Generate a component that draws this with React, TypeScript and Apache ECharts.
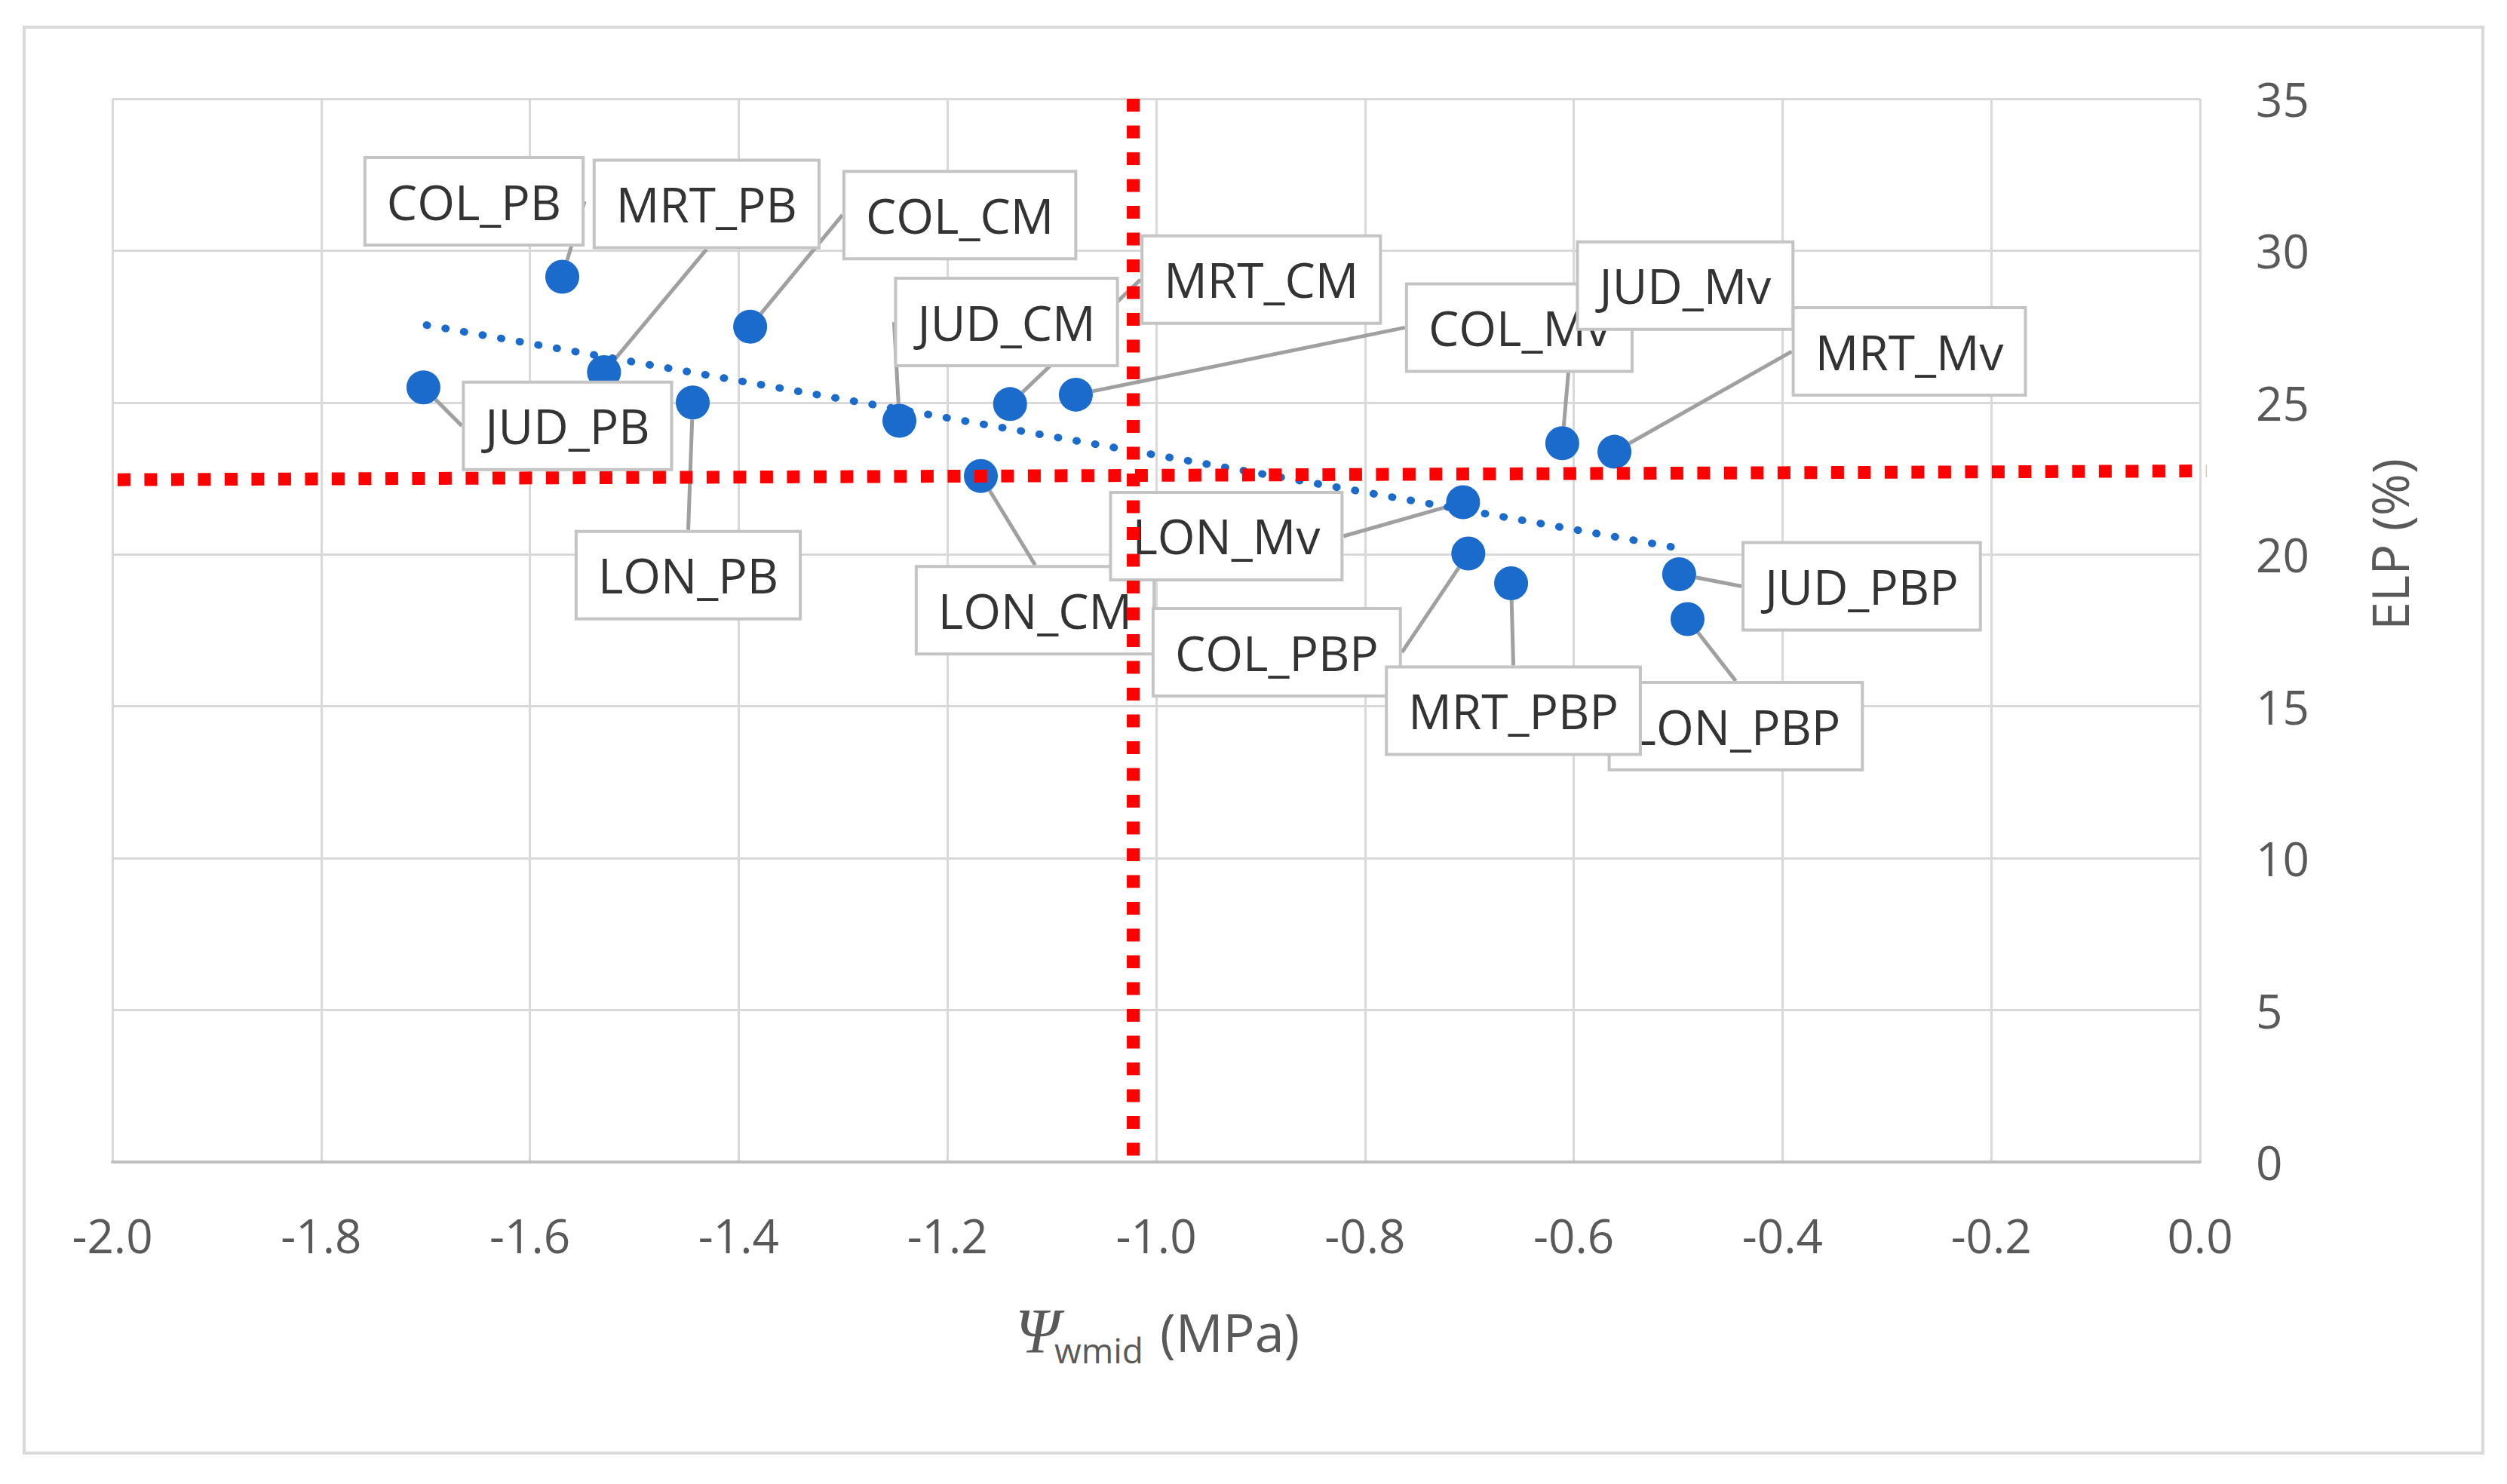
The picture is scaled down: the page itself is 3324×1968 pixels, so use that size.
import React, { useEffect, useRef } from "react";
import * as echarts from "echarts";

// site / treatment labels and their values
const pointNames = [
  "COL_PB", "MRT_PB", "COL_CM", "JUD_PB", "LON_PB", "JUD_CM", "MRT_CM", "COL_Mv",
  "LON_CM", "LON_Mv", "COL_PBP", "LON_PBP", "MRT_PBP", "JUD_Mv", "MRT_Mv", "JUD_PBP",
];
const psiWmid = [
  -1.569, -1.529, -1.389, -1.702, -1.444, -1.246, -1.14, -1.077,
  -1.168, -0.706, -0.701, -0.491, -0.66, -0.611, -0.561, -0.499,
];
const elp = [
  29.14, 26.0, 27.5, 25.5, 25.0, 24.4, 24.95, 25.26,
  22.58, 21.72, 20.03, 17.87, 19.05, 23.66, 23.38, 19.35,
];

// linear trend (dotted blue)
const trendPsi = [-1.699, -0.503];
const trendElp = [27.55, 20.23];

// red reference lines
const vertPsi = [-1.022, -1.022];
const vertElp = [35, 0];
const horizPsi = [-1.995, 0.006];
const horizElp = [22.46, 22.75];

// axis ticks
const xTicks = { min: -2, max: 0, interval: 0.2 };
const yTicks = { min: 0, max: 35, interval: 5 };

// label box offsets from each point, in pixels (layout only)
const labelOffsets = [
  [-117, -100], [136, -223], [278, -148], [191, 51], [-6, 229], [142, -131], [333, -165], [588, -89],
  [72, 178], [-314, 45], [-254, 131], [64, 142], [3, 169], [163, -209], [391, -133], [242, 16],
];

const FONT = "'Open Sans', sans-serif";

const App = () => {
  const chartRef = useRef(null);

  useEffect(() => {
    document.body.style.margin = "0";
    const chart = echarts.init(chartRef.current, null, { renderer: "svg" });

    const points = pointNames.map((n, i) => ({ name: n, value: [psiWmid[i], elp[i]] }));

    chart.setOption({
      animation: false,
      backgroundColor: "#ffffff",
      grid: { left: 149, right: 407, top: 131, bottom: 427, outerBoundsMode: "none" },
      xAxis: {
        type: "value",
        min: xTicks.min,
        max: xTicks.max,
        interval: xTicks.interval,
        axisLine: { show: true, onZero: false, lineStyle: { color: "#bfbfbf", width: 4 } },
        axisTick: { show: false },
        splitLine: { show: true, lineStyle: { color: "#d9d9d9", width: 3 } },
        axisLabel: {
          margin: 66,
          fontSize: 62,
          fontFamily: FONT,
          color: "#595959",
          formatter: (v: number) => v.toFixed(1),
        },
      },
      yAxis: {
        type: "value",
        position: "right",
        min: yTicks.min,
        max: yTicks.max,
        interval: yTicks.interval,
        axisLine: { show: false },
        axisTick: { show: false },
        splitLine: { show: true, lineStyle: { color: "#d9d9d9", width: 3 } },
        axisLabel: { margin: 74, fontSize: 62, fontFamily: FONT, color: "#595959" },
      },
      graphic: [
        {
          type: "rect",
          z: -10,
          shape: { x: 32, y: 36, width: 3260, height: 1891 },
          style: { fill: "none", stroke: "#d9d9d9", lineWidth: 4 },
        },
        {
          type: "text",
          x: 1346,
          y: 1765,
          style: {
            text: "Ψ",
            fontFamily: "'Liberation Serif', serif",
            fontStyle: "italic",
            fontSize: 84,
            fill: "#595959",
            verticalAlign: "middle",
          },
        },
        {
          type: "text",
          x: 1398,
          y: 1790,
          style: { text: "wmid", fontFamily: FONT, fontSize: 46, fill: "#595959", verticalAlign: "middle" },
        },
        {
          type: "text",
          x: 1538,
          y: 1766,
          style: { text: "(MPa)", fontFamily: FONT, fontSize: 70, fill: "#595959", verticalAlign: "middle" },
        },
        {
          type: "text",
          x: 3167,
          y: 722,
          rotation: Math.PI / 2,
          style: {
            text: "ELP (%)",
            fontFamily: FONT,
            fontSize: 68,
            fill: "#595959",
            align: "center",
            verticalAlign: "middle",
          },
        },
      ],
      series: [
        {
          type: "scatter",
          z: 2,
          data: points,
          symbol: "circle",
          symbolSize: 45,
          itemStyle: { color: "#1a6bcb", opacity: 1 },
          label: {
            show: true,
            position: "inside",
            formatter: "{b}",
            fontFamily: FONT,
            fontSize: 64,
            lineHeight: 64,
            color: "#333333",
            backgroundColor: "#ffffff",
            borderColor: "#c4c4c4",
            borderWidth: 4,
            padding: [24, 27],
          },
          labelLine: { show: true, lineStyle: { color: "#a0a0a0", width: 5 } },
          labelLayout: (p: any) => ({
            dx: labelOffsets[p.dataIndex][0],
            dy: labelOffsets[p.dataIndex][1],
          }),
          emphasis: { disabled: true },
        },
        {
          type: "line",
          z: 3,
          data: trendPsi.map((x, i) => [x, trendElp[i]]),
          symbol: "none",
          lineStyle: { color: "#1a6bcb", width: 10, type: [1, 24], cap: "round" },
          emphasis: { disabled: true },
        },
        {
          type: "line",
          z: 4,
          clip: false,
          data: horizPsi.map((x, i) => [x, horizElp[i]]),
          symbol: "none",
          lineStyle: { color: "#ff0000", width: 17, type: [17, 18.5], cap: "butt" },
          emphasis: { disabled: true },
        },
        {
          type: "line",
          z: 4,
          clip: false,
          data: vertPsi.map((x, i) => [x, vertElp[i]]),
          symbol: "none",
          lineStyle: { color: "#ff0000", width: 17, type: [17, 18.5], cap: "butt" },
          emphasis: { disabled: true },
        },
      ],
    });

    return () => {
      chart.dispose();
    };
  }, []);

  return <div ref={chartRef} style={{ width: "3324px", height: "1968px" }}></div>;
};

export default App;
